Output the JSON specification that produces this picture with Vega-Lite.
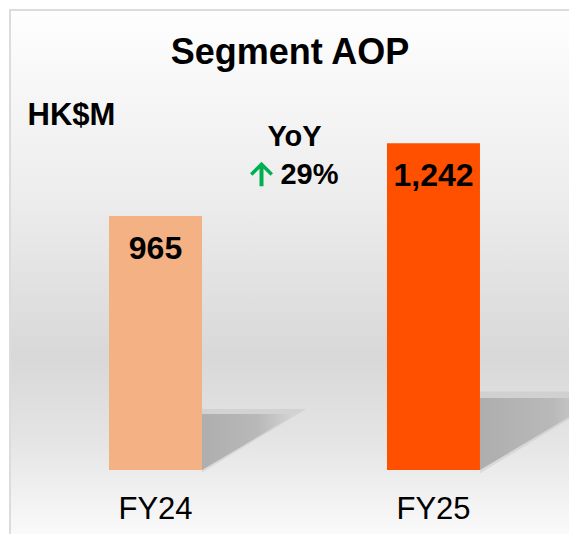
{
  "$schema": "https://vega.github.io/schema/vega-lite/v6.json",
  "width": 560,
  "height": 525,
  "autosize": "none",
  "padding": {"left": 10, "top": 10, "right": 0, "bottom": 0},
  "background": "#ffffff",
  "config": {
    "view": {"stroke": null},
    "font": "Liberation Sans"
  },
  "title": {
    "text": "Segment AOP",
    "font": "Liberation Sans",
    "fontSize": 36,
    "fontWeight": "bold",
    "color": "#000000",
    "anchor": "middle",
    "frame": "group",
    "baseline": "alphabetic",
    "offset": -54,
    "dy": 37
  },
  "data": {
    "values": [
      {"year": "FY24", "value": 965},
      {"year": "FY25", "value": 1242}
    ]
  },
  "encoding": {
    "x": {
      "field": "year",
      "type": "nominal",
      "scale": {"domain": ["FY24", "FY25"], "paddingInner": 0.6655, "paddingOuter": 0.34, "align": 0.5238},
      "axis": {
        "orient": "bottom",
        "title": null,
        "domain": false,
        "ticks": false,
        "grid": false,
        "zindex": 1,
        "labelAngle": 0,
        "labelFont": "Liberation Sans",
        "labelFontSize": 31,
        "labelColor": "#000000",
        "labelBaseline": "alphabetic",
        "labelPadding": 2,
        "offset": -19
      }
    },
    "y": {
      "field": "value",
      "type": "quantitative",
      "scale": {"domain": [-247, 1748], "nice": false, "zero": false},
      "axis": {
        "title": "HK$M",
        "labels": false,
        "ticks": false,
        "domain": false,
        "grid": false,
        "zindex": 1,
        "titleAngle": 0,
        "titleAlign": "left",
        "titleBaseline": "alphabetic",
        "titleX": 17,
        "titleY": 114,
        "titleFont": "Liberation Sans",
        "titleFontSize": 31,
        "titleFontWeight": "bold",
        "titleColor": "#000000"
      }
    }
  },
  "layer": [
    {
      "data": {"values": [{}]},
      "mark": {
        "type": "rect",
        "stroke": "#dcdcdc",
        "strokeWidth": 2,
        "color": {
          "gradient": "linear",
          "x1": 0, "y1": 0, "x2": 0, "y2": 1,
          "stops": [
            {"offset": 0, "color": "#fefefe"},
            {"offset": 0.37, "color": "#ececec"},
            {"offset": 0.66, "color": "#d8d8d8"},
            {"offset": 0.825, "color": "#e5e5e5"},
            {"offset": 1, "color": "#fafafa"}
          ]
        }
      },
      "encoding": {"x": null, "y": null}
    },
    {
      "mark": {
        "type": "point",
        "shape": "M0,0.01 L0,-0.24 L0.41,-0.24 Z",
        "filled": true,
        "opacity": 0.3,
        "strokeWidth": 0,
        "color": "#b4b4b4"
      },
      "encoding": {
        "x": {"field": "year", "type": "nominal", "bandPosition": 1},
        "y": {"datum": 0},
        "size": {
          "field": "value",
          "type": "quantitative",
          "scale": {"type": "pow", "exponent": 2, "domain": [0, 1242], "range": [0, 427716]},
          "legend": null
        }
      }
    },
    {
      "mark": {
        "type": "point",
        "shape": "M0,0 L0,-0.22 L0.37,-0.22 Z",
        "filled": true,
        "opacity": 1,
        "strokeWidth": 0,
        "color": {
          "gradient": "linear",
          "x1": 0, "y1": 0, "x2": 1, "y2": 0,
          "stops": [
            {"offset": 0, "color": "#aeaeae"},
            {"offset": 0.6, "color": "#b9b9b9"},
            {"offset": 1, "color": "#d6d6d6"}
          ]
        }
      },
      "encoding": {
        "x": {"field": "year", "type": "nominal", "bandPosition": 1},
        "y": {"datum": 0},
        "size": {
          "field": "value",
          "type": "quantitative",
          "scale": {"type": "pow", "exponent": 2, "domain": [0, 1242], "range": [0, 427716]},
          "legend": null
        }
      }
    },
    {
      "mark": {"type": "bar"},
      "encoding": {
        "color": {
          "field": "year",
          "type": "nominal",
          "scale": {"domain": ["FY24", "FY25"], "range": ["#F4B183", "#FF5000"]},
          "legend": null
        }
      }
    },
    {
      "mark": {
        "type": "text",
        "font": "Liberation Sans",
        "fontSize": 32,
        "fontWeight": "bold",
        "color": "#000000",
        "baseline": "alphabetic",
        "align": "center",
        "dy": 43
      },
      "encoding": {
        "text": {"field": "value", "type": "quantitative", "format": ","}
      }
    },
    {
      "transform": [{"filter": "datum.year === 'FY24'"}],
      "mark": {
        "type": "text",
        "text": "YoY",
        "font": "Liberation Sans",
        "fontSize": 29,
        "fontWeight": "bold",
        "color": "#000000",
        "baseline": "alphabetic",
        "align": "center",
        "dx": 139
      },
      "encoding": {
        "y": {"datum": 1231}
      }
    },
    {
      "transform": [{"filter": "datum.year === 'FY24'"}],
      "mark": {
        "type": "text",
        "text": "29%",
        "font": "Liberation Sans",
        "fontSize": 29,
        "fontWeight": "bold",
        "color": "#000000",
        "baseline": "alphabetic",
        "align": "center",
        "dx": 154
      },
      "encoding": {
        "y": {"datum": 1086}
      }
    },
    {
      "transform": [{"filter": "datum.year === 'FY24'"}],
      "mark": {
        "type": "point",
        "shape": "M0,-12.5 L11.5,-1 L9,1.5 L2,-5.5 L2,12 L-2,12 L-2,-5.5 L-9,1.5 L-11.5,-1 Z",
        "size": 4,
        "filled": true,
        "opacity": 1,
        "strokeWidth": 0,
        "color": "#00B050",
        "xOffset": 106
      },
      "encoding": {
        "y": {"datum": 1124}
      }
    }
  ]
}
